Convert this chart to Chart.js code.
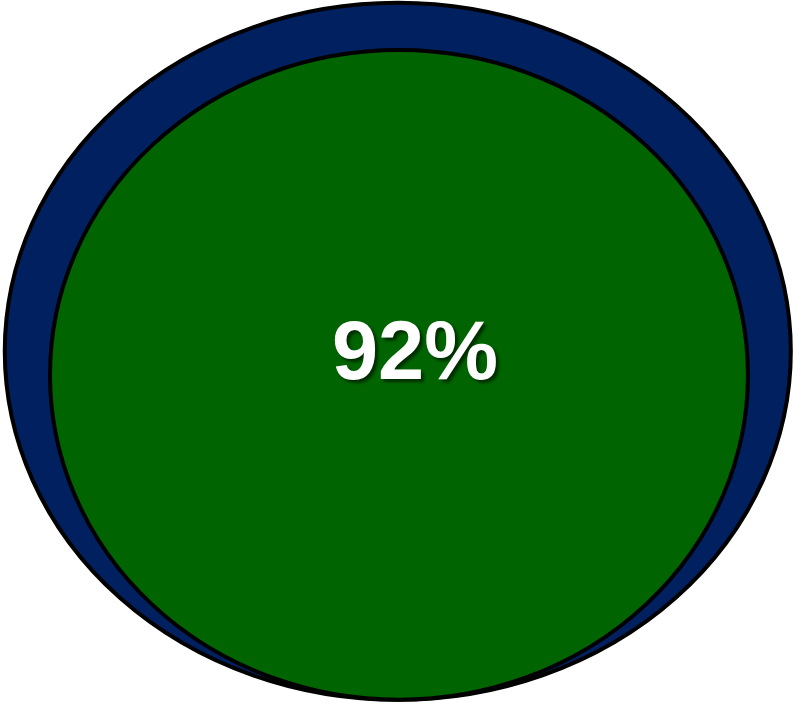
<!DOCTYPE html>
<html>
<head>
<meta charset="utf-8">
<title>92%</title>
<script src="https://cdn.jsdelivr.net/npm/chart.js@4.4.1/dist/chart.umd.min.js"></script>
<style>
    html, body { margin: 0; padding: 0; background: #ffffff; }
    #wrap { width: 794px; height: 704px; position: relative; }
</style>
</head>
<body>
<div id="wrap"><canvas id="ovalChart"></canvas></div>
<script>
// Data: two nested ovals, extents on a 0-100 grid (x left->right, y top->bottom)
const categories = ['Total', 'Share'];
const shareValues = [100, 92];
const ovalLeft = [0.6, 6.3];
const ovalRight = [99.6, 94.2];
const ovalTop = [0.4, 7.1];
const ovalBottom = [99.4, 99.4];
const labelText = '92%';

const COLORS = {
    outer: '#002060',
    inner: '#006400',
    edge: '#000000',
    label: '#ffffff'
};
const fills = [COLORS.outer, COLORS.inner];

// Draw each dataset as an ellipse through the x/y scales
const ovalPlugin = {
    id: 'ovals',
    beforeDatasetsDraw(chart) {
        const { ctx, scales } = chart;
        chart.data.datasets.forEach((ds, i) => {
            const x1 = scales.x.getPixelForValue(ovalLeft[i]);
            const x2 = scales.x.getPixelForValue(ovalRight[i]);
            const y1 = scales.y.getPixelForValue(ovalTop[i]);
            const y2 = scales.y.getPixelForValue(ovalBottom[i]);
            ctx.save();
            ctx.beginPath();
            ctx.ellipse((x1 + x2) / 2, (y1 + y2) / 2, Math.abs(x2 - x1) / 2, Math.abs(y2 - y1) / 2, 0, 0, Math.PI * 2);
            ctx.fillStyle = ds.backgroundColor;
            ctx.fill();
            ctx.lineWidth = 4;
            ctx.strokeStyle = COLORS.edge;
            ctx.stroke();
            ctx.restore();
        });
    },
    afterDatasetsDraw(chart) {
        const { ctx, scales } = chart;
        const cx = scales.x.getPixelForValue((ovalLeft[1] + ovalRight[1]) / 2) + 16;
        const cy = scales.y.getPixelForValue((ovalTop[1] + ovalBottom[1]) / 2) - 19;
        ctx.save();
        ctx.font = "bold 83px 'Liberation Sans', Arial, sans-serif";
        ctx.textAlign = 'center';
        ctx.textBaseline = 'middle';
        ctx.shadowColor = 'rgba(0, 0, 0, 0.55)';
        ctx.shadowOffsetX = 3;
        ctx.shadowOffsetY = 3;
        ctx.shadowBlur = 3;
        ctx.fillStyle = COLORS.label;
        ctx.fillText(labelText, cx, cy);
        ctx.restore();
    }
};

function initOvalChart() {
    const el = document.getElementById('ovalChart');
    new Chart(el, {
        type: 'scatter',
        data: {
            datasets: categories.map((name, i) => ({
                label: name,
                data: [{ x: (ovalLeft[i] + ovalRight[i]) / 2, y: (ovalTop[i] + ovalBottom[i]) / 2, v: shareValues[i] }],
                backgroundColor: fills[i],
                pointRadius: 0,
                pointHoverRadius: 0
            }))
        },
        options: {
            responsive: true,
            maintainAspectRatio: false,
            animation: false,
            layout: { padding: 0 },
            plugins: {
                legend: { display: false },
                tooltip: { enabled: false }
            },
            scales: {
                x: { type: 'linear', min: 0, max: 100, display: false },
                y: { type: 'linear', min: 0, max: 100, reverse: true, display: false }
            }
        },
        plugins: [ovalPlugin]
    });
}

if (document.readyState === 'loading') {
    document.addEventListener('DOMContentLoaded', initOvalChart);
} else {
    initOvalChart();
}
</script>
</body>
</html>
